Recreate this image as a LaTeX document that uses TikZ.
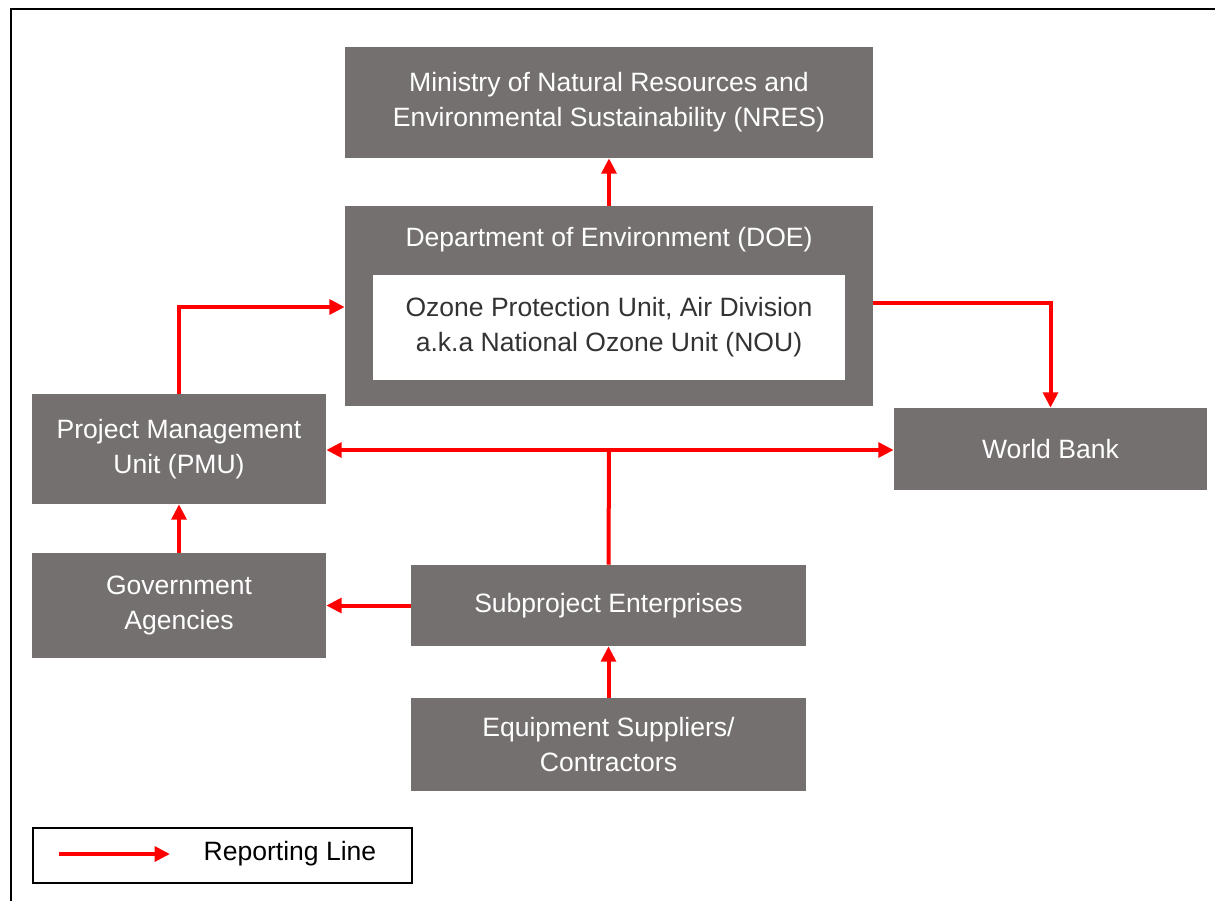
\documentclass[tikz,border=0pt]{standalone}
\usepackage{fontspec}
\setmainfont{Liberation Sans}
\usetikzlibrary{arrows.meta}
\definecolor{boxgray}{HTML}{757070}
\definecolor{repred}{HTML}{FF0000}
\definecolor{darktext}{HTML}{333333}
\tikzset{
  orgbox/.style={draw=none, fill=boxgray, text=white, inner sep=0pt, align=center,
    font=\fontsize{19.9}{26.25}\selectfont},
  innerbox/.style={draw=none, fill=white, text=darktext, inner sep=0pt, align=center,
    font=\fontsize{19.9}{26.25}\selectfont},
  arr/.style={draw=repred, line width=3pt, -{Triangle[length=11.5pt,width=11pt]}},
  plainline/.style={draw=repred, line width=3pt},
}
\begin{document}
\begin{tikzpicture}[x=0.75pt,y=-0.75pt]
\useasboundingbox (0,0) rectangle (1215,901);
% frame
\draw[line width=1.5pt] (11,901) -- (11,9) -- (1215,9);
% boxes
\node[orgbox, minimum width=396pt, minimum height=83.25pt] (nres) at (609,102.5)
  {Ministry of Natural Resources and\\Environmental Sustainability (NRES)};
\node[orgbox, minimum width=396pt, minimum height=150pt] (doe) at (609,306) {};
\node[orgbox, fill=none] (doetitle) at (609,240) {Department of Environment (DOE)};
\node[innerbox, minimum width=354pt, minimum height=78.75pt] (nou) at (609,327.5)
  {Ozone Protection Unit, Air Division\\a.k.a National Ozone Unit (NOU)};
\node[orgbox, minimum width=234.75pt, minimum height=61.5pt] (wb) at (1050.5,449) {World Bank};
\node[orgbox, minimum width=220.5pt, minimum height=82.5pt] (pmu) at (179,449)
  {Project Management\\Unit (PMU)};
\node[orgbox, minimum width=220.5pt, minimum height=78.75pt] (ga) at (179,605.5)
  {Government\\Agencies};
\node[orgbox, minimum width=296.25pt, minimum height=60.75pt] (se) at (608.5,605.5)
  {Subproject Enterprises};
\node[orgbox, minimum width=296.25pt, minimum height=69.75pt] (eq) at (608.5,744.5)
  {Equipment Suppliers/\\Contractors};
% connectors
\coordinate (j) at (609,450);
\draw[arr] (doe.north) -- (nres.south);
\draw[arr] (pmu.north) |- ([yshift=-0.75pt]doe.west);
\draw[arr] ([yshift=2.25pt]doe.east) -| (wb.north);
\draw[plainline] (se.north) -- (j);
\draw[arr] (j) -- (j -| pmu.east);
\draw[arr] (j) -- (j -| wb.west);
\draw[arr] (se.west) -- (se.west -| ga.east);
\draw[arr] (ga.north) -- (pmu.south);
\draw[arr] (eq.north) -- (se.south);
% legend
\node[draw=black, line width=1.5pt, minimum width=284.25pt, minimum height=41.25pt, inner sep=0pt] (legend) at (222.5,855.5) {};
\coordinate (ls) at (59,854);
\coordinate (le) at (170,854);
\draw[arr] (ls) -- (le);
\node[font=\fontsize{19.9}{24}\selectfont, inner sep=0pt] (legtext) at (290,854) {Reporting Line};
\end{tikzpicture}
\end{document}
